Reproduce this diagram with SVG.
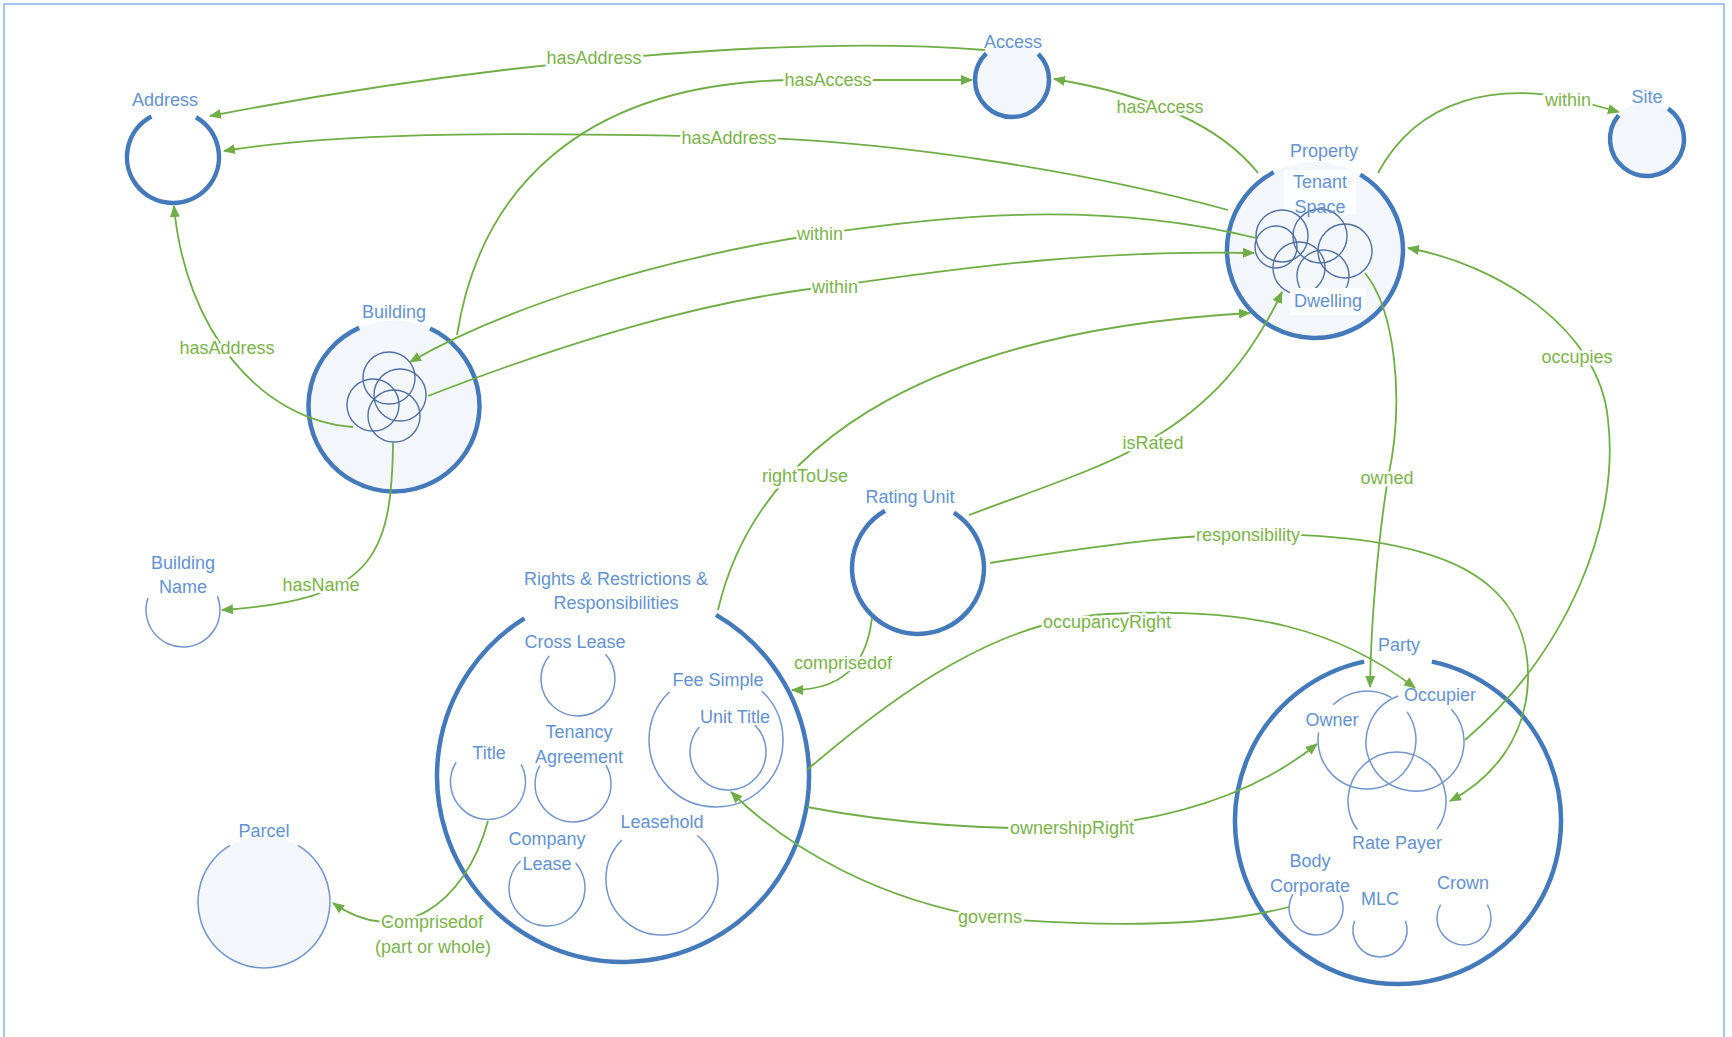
<svg xmlns="http://www.w3.org/2000/svg" width="1732" height="1037" viewBox="0 0 1732 1037">
<style>
text{font-family:"Liberation Sans",Arial,sans-serif;font-size:18px;text-anchor:middle;dominant-baseline:central}
.nl{fill:#6492cf}
.cl{fill:#7bb24c;stroke:#ffffff;stroke-width:5;paint-order:stroke;stroke-linejoin:round}
.big{fill:none;stroke:#4479ba;stroke-width:4.5}
.fill{fill:#f3f6fb;stroke:none}
.thin{fill:none;stroke:#7395c9;stroke-width:1.5}
.inner{fill:none;stroke:#50709f;stroke-width:1.4}
.edge{fill:none;stroke:#70ad47;stroke-width:1.8;marker-end:url(#arr)}
</style>
<defs>
<marker id="arr" viewBox="0 0 12 10" refX="11" refY="5" markerWidth="12" markerHeight="10" markerUnits="userSpaceOnUse" orient="auto">
<path d="M0,0 L12,5 L0,10 z" fill="#70ad47"/>
</marker>
</defs>
<rect x="0" y="0" width="1732" height="1037" fill="#ffffff"/>
<rect x="4" y="4" width="1720" height="1045" fill="none" stroke="#a3c5e8" stroke-width="2"/>

<g id="node-address">
<path class="big" d="M196,117.2 A46,46 0 1 1 151.4,116.4"/>
<text x="165" y="100" class="nl">Address</text>
</g>
<g id="node-access">
<circle cx="1012" cy="80" r="37" class="fill"/>
<path class="big" d="M1038.2,53.8 A37,37 0 1 1 986.3,53.4"/>
<text x="1013" y="42" class="nl">Access</text>
</g>
<g id="node-site">
<circle cx="1647" cy="139" r="37" class="fill"/>
<path class="big" d="M1668.2,108.7 A37,37 0 1 1 1618.7,115.2"/>
<text x="1647" y="97" class="nl">Site</text>
</g>
<g id="node-property">
<circle cx="1315" cy="250" r="88" class="fill"/>
<path class="big" d="M1360.3,174.6 A88,88 0 1 1 1273.7,172.3"/>
<rect x="1284" y="170" width="72" height="44" fill="#fcfdfe"/>
<circle cx="1282" cy="236" r="26" class="inner"/>
<circle cx="1276" cy="247" r="21" class="inner"/>
<circle cx="1320" cy="236" r="27" class="inner"/>
<circle cx="1345" cy="251" r="27" class="inner"/>
<circle cx="1299" cy="268" r="26" class="inner"/>
<circle cx="1323" cy="276" r="26" class="inner"/>
<rect x="1290" y="288" width="76" height="27" fill="#fcfdfe"/>
<text x="1324" y="151" class="nl">Property</text>
<text x="1320" y="182" class="nl">Tenant</text>
<text x="1320" y="207" class="nl">Space</text>
<text x="1328" y="301" class="nl">Dwelling</text>
</g>
<g id="node-building">
<circle cx="394" cy="406" r="85.5" class="fill"/>
<path class="big" d="M430.1,328.5 A85.5,85.5 0 1 1 359.2,327.9"/>
<circle cx="389" cy="378" r="26" class="inner"/>
<circle cx="400" cy="395" r="26" class="inner"/>
<circle cx="373" cy="405" r="26" class="inner"/>
<circle cx="394" cy="416" r="26" class="inner"/>
<text x="394" y="312" class="nl">Building</text>
</g>
<g id="node-building-name">
<path class="thin" d="M217.3,596.1 A37,37 0 1 1 148,598"/>
<text x="183" y="563" class="nl">Building</text>
<text x="183" y="587" class="nl">Name</text>
</g>
<g id="node-parcel">
<circle cx="264" cy="902" r="66" class="fill"/>
<path class="thin" d="M298,845.4 A66,66 0 1 1 230,845.4"/>
<text x="264" y="831" class="nl">Parcel</text>
</g>
<g id="node-rights">
<path class="big" d="M716,614.9 A186,186 0 1 1 524.4,618.3"/>
<text x="616" y="579" class="nl">Rights &amp; Restrictions &amp;</text>
<text x="616" y="603" class="nl">Responsibilities</text>
<path class="thin" d="M605.5,654.2 A37,37 0 1 1 549.2,655.7"/>
<text x="575" y="642" class="nl">Cross Lease</text>
<path class="thin" d="M761.7,691 A67,67 0 1 1 669.5,691.8"/>
<text x="718" y="680" class="nl">Fee Simple</text>
<path class="thin" d="M754.9,725.1 A38,38 0 1 1 699.3,727.1"/>
<text x="735" y="717" class="nl">Unit Title</text>
<path class="thin" d="M521.1,764.4 A37.5,37.5 0 1 1 456.2,762.1"/>
<text x="489" y="753" class="nl">Title</text>
<path class="thin" d="M605.9,765 A38,38 0 1 1 539.8,765.6"/>
<text x="579" y="732" class="nl">Tenancy</text>
<text x="579" y="757" class="nl">Agreement</text>
<path class="thin" d="M575.7,863.1 A38,38 0 1 1 520.6,860.7"/>
<text x="547" y="839" class="nl">Company</text>
<text x="547" y="864" class="nl">Lease</text>
<path class="thin" d="M697.2,835.5 A56,56 0 1 1 621.7,840.1"/>
<text x="662" y="822" class="nl">Leasehold</text>
</g>
<g id="node-rating-unit">
<path class="big" d="M953.9,512.6 A66,66 0 1 1 885,510.8"/>
<text x="910" y="497" class="nl">Rating Unit</text>
</g>
<g id="node-party">
<path class="big" d="M1431.9,661.6 A163,163 0 1 1 1364.1,661.6"/>
<text x="1399" y="645" class="nl">Party</text>
<path class="thin" d="M1407.1,711.9 A49,49 0 1 1 1318.6,732.3 M1333,704.8 A49,49 0 0 1 1391.5,697.6"/>
<text x="1332" y="720" class="nl">Owner</text>
<path class="thin" d="M1451.4,709.2 A49,49 0 1 1 1398.2,696"/>
<text x="1440" y="695" class="nl">Occupier</text>
<path class="thin" d="M1357.4,829.8 A49,49 0 1 1 1437.1,829.1"/>
<text x="1397" y="843" class="nl">Rate Payer</text>
<path class="thin" d="M1340.1,895.7 A27,27 0 1 1 1292.9,894.1"/>
<text x="1310" y="861" class="nl">Body</text>
<text x="1310" y="886" class="nl">Corporate</text>
<path class="thin" d="M1405.4,920.8 A27,27 0 1 1 1354.6,920.8"/>
<text x="1380" y="899" class="nl">MLC</text>
<path class="thin" d="M1487.4,904.5 A27,27 0 1 1 1440.6,904.5"/>
<text x="1463" y="883" class="nl">Crown</text>
</g>

<g id="connectors">
<path class="edge" d="M985,50 C800,35 500,60 210,116"/>
<text x="594" y="58" class="cl">hasAddress</text>
<path class="edge" d="M457,335 C480,190 580,85 787,80 L972,80"/>
<text x="828" y="80" class="cl">hasAccess</text>
<path class="edge" d="M1258,173 C1220,125 1150,95 1054,79"/>
<text x="1160" y="107" class="cl">hasAccess</text>
<path class="edge" d="M1228,210 C1100,175 900,140 729,137 C550,133 350,130 224,151"/>
<text x="729" y="138" class="cl">hasAddress</text>
<path class="edge" d="M1256,238 C1100,200 950,215 820,234 C650,260 500,310 410,362"/>
<text x="820" y="234" class="cl">within</text>
<path class="edge" d="M428,396 C560,345 700,300 835,286 C980,265 1100,250 1254,253"/>
<text x="835" y="287" class="cl">within</text>
<path class="edge" d="M353,427 C260,420 185,330 174,206"/>
<text x="227" y="348" class="cl">hasAddress</text>
<path class="edge" d="M393,442 C392,560 370,600 222,610"/>
<text x="321" y="585" class="cl">hasName</text>
<path class="edge" d="M1378,173 C1420,95 1500,85 1568,98 L1619,112"/>
<text x="1568" y="100" class="cl">within</text>
<path class="edge" d="M969,515 C1050,485 1110,465 1150,440 C1210,405 1250,360 1282,292"/>
<text x="1153" y="443" class="cl">isRated</text>
<path class="edge" d="M718,610 C760,430 950,330 1250,313"/>
<text x="805" y="476" class="cl">rightToUse</text>
<path class="edge" d="M872,618 C868,650 855,690 792,690"/>
<text x="843" y="663" class="cl">comprisedof</text>
<path class="edge" d="M488,821 C465,905 400,950 333,903"/>
<text x="432" y="922" class="cl">Comprisedof</text>
<text x="433" y="947" class="cl">(part or whole)</text>
<path class="edge" d="M990,563 C1100,545 1180,535 1248,534 C1450,533 1530,580 1528,680 C1526,740 1490,780 1450,801"/>
<text x="1248" y="535" class="cl">responsibility</text>
<path class="edge" d="M807,770 C900,690 1000,620 1108,614 C1250,606 1340,630 1415,688"/>
<text x="1107" y="622" class="cl">occupancyRight</text>
<path class="edge" d="M807,807 C900,825 1000,830 1071,828 C1180,820 1260,790 1317,744"/>
<text x="1072" y="828" class="cl">ownershipRight</text>
<path class="edge" d="M1289,907 C1200,930 1080,925 990,918 C880,900 790,850 731,792"/>
<text x="990" y="917" class="cl">governs</text>
<path class="edge" d="M1365,273 C1395,310 1405,400 1388,478 C1378,540 1371,620 1370,687"/>
<text x="1387" y="478" class="cl">owned</text>
<path class="edge" d="M1465,740 C1570,650 1620,520 1608,420 C1600,330 1500,265 1408,248"/>
<text x="1577" y="357" class="cl">occupies</text>
</g>
</svg>
